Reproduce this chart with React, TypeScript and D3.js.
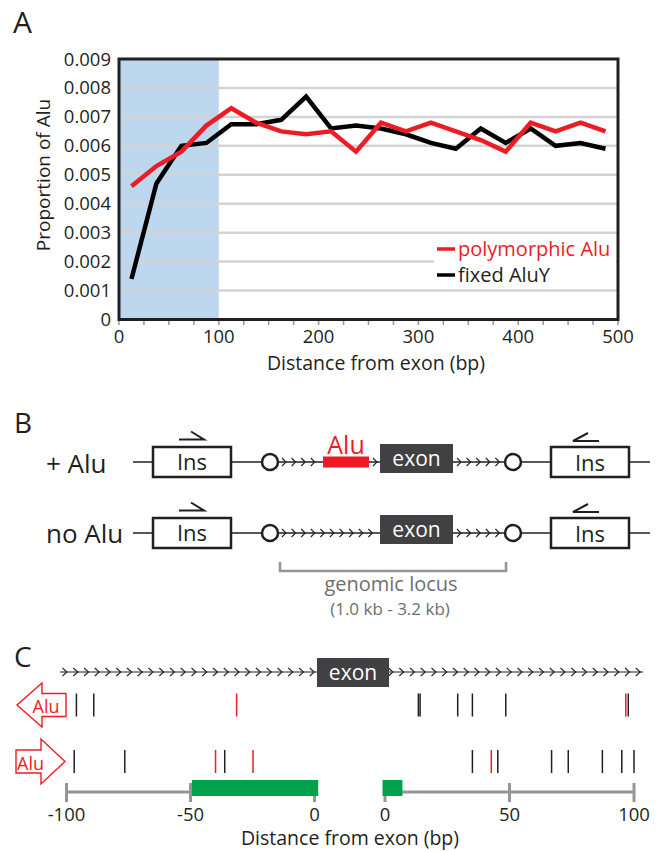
import React from "react";
import * as d3 from "d3";

const FONT = "'Open Sans', sans-serif";
const INK = "#231f20";
const RED = "#ed1c24";
const GRID = "#d1d3d4";
const GRAY = "#939598";
const EXON = "#414042";
const GREEN = "#00a14b";

// Panel A: proportion of Alu per 25 bp bin
const binMid = [12.5, 37.5, 62.5, 87.5, 112.5, 137.5, 162.5, 187.5, 212.5, 237.5, 262.5, 287.5, 312.5, 337.5, 362.5, 387.5, 412.5, 437.5, 462.5, 487.5];
const polymorphicAlu = [0.0046, 0.0053, 0.0058, 0.0067, 0.0073, 0.0068, 0.0065, 0.0064, 0.0065, 0.0058, 0.0068, 0.0065, 0.0068, 0.0065, 0.0062, 0.0058, 0.0068, 0.0065, 0.0068, 0.0065];
const fixedAluY = [0.0014, 0.0047, 0.006, 0.0061, 0.00675, 0.00675, 0.0069, 0.0077, 0.0066, 0.0067, 0.0066, 0.0064, 0.0061, 0.0059, 0.0066, 0.0061, 0.0066, 0.006, 0.0061, 0.0059];
const yTicksA = [0, 0.001, 0.002, 0.003, 0.004, 0.005, 0.006, 0.007, 0.008, 0.009];
const xTicksA = [0, 100, 200, 300, 400, 500];
const xMinorA = [0, 25, 50, 75, 100, 125, 150, 175, 200, 225, 250, 275, 300, 325, 350, 375, 400, 425, 450, 475, 500];
const shaded = [0, 100];

// Panel C: Alu insertion sites relative to exon (bp)
const revFixed = [-96, -89, 13.4, 14.1, 29.2, 35.1, 48.5, 97.7];
const revPoly = [-31.4, 96.7];
const fwdFixed = [-96.9, -76.5, -36.2, 35.1, 45.3, 66.9, 73.6, 87.3, 95.1, 100];
const fwdPoly = [-39.9, -24.8, 42.7];
const greenUp = [-49.4, 1.5];
const greenDown = [-1, 7];
const upTicks = [-100, -50, 0];
const downTicks = [0, 50, 100];

const chevron = (x: number, y: number, h: number, w: number, key: string) => (
  <path key={key} d={`M${x - w},${y - h} L${x},${y} L${x - w},${y + h}`} fill="none" stroke={INK} strokeWidth={1.1} />
);

function PanelA() {
  const x = d3.scaleLinear().domain([0, 500]).range([119, 618]);
  const y = d3.scaleLinear().domain([0, 0.009]).range([319.5, 59]);
  const line = d3.line<number>().x((_, i) => x(binMid[i])).y((d) => y(d));
  return (
    <g fontFamily={FONT} fill={INK}>
      <text x={13} y={33} fontSize={30}>A</text>
      <rect x={x(shaded[0])} y={y(0.009)} width={x(shaded[1]) - x(shaded[0])} height={y(0) - y(0.009)} fill="#bdd7ee" />
      {yTicksA.slice(1, -1).map((t) => (
        <line key={t} x1={x(0)} x2={x(500)} y1={y(t)} y2={y(t)} stroke={GRID} strokeWidth={2.5} />
      ))}
      {xMinorA.map((t) => (
        <line key={t} x1={x(t)} x2={x(t)} y1={321} y2={325} stroke={GRAY} strokeWidth={1.5} />
      ))}
      <path d={line(fixedAluY) || ""} fill="none" stroke="#000" strokeWidth={4.5} strokeLinejoin="miter" />
      <path d={line(polymorphicAlu) || ""} fill="none" stroke={RED} strokeWidth={4.5} strokeLinejoin="miter" />
      <rect x={x(0)} y={y(0.009)} width={x(500) - x(0)} height={y(0) - y(0.009)} fill="none" stroke={INK} strokeWidth={3} />
      {yTicksA.map((t) => (
        <text key={t} x={111} y={y(t) + 6.5} fontSize={18.5} textAnchor="end">{t === 0 ? "0" : t.toFixed(3)}</text>
      ))}
      {xTicksA.map((t) => (
        <text key={t} x={x(t)} y={343} fontSize={18.5} textAnchor="middle">{t}</text>
      ))}
      <text transform="translate(50,175) rotate(-90)" fontSize={19} textAnchor="middle">Proportion of Alu</text>
      <text x={376} y={370} fontSize={19.5} textAnchor="middle">Distance from exon (bp)</text>
      <rect x={434} y={237} width={182} height={48} fill="#fff" />
      <line x1={437} x2={455} y1={249} y2={249} stroke={RED} strokeWidth={3.5} />
      <text x={458} y={255.5} fontSize={20} fill={RED}>polymorphic Alu</text>
      <line x1={437} x2={455} y1={275} y2={275} stroke="#000" strokeWidth={3.5} />
      <text x={458} y={281.5} fontSize={20}>fixed AluY</text>
    </g>
  );
}

function Construct({ cy, withAlu }: { cy: number; withAlu: boolean }) {
  const leftChev = withAlu ? d3.range(4).map((i) => 286 + i * 9.6) : d3.range(10).map((i) => 286 + i * 9.6);
  const rightChev = d3.range(5).map((i) => 461 + i * 9.6);
  return (
    <g>
      <line x1={133} x2={650} y1={cy} y2={cy} stroke={INK} strokeWidth={1.4} />
      <rect x={153} y={cy - 15} width={78} height={30} fill="#fff" stroke={INK} strokeWidth={2.5} />
      <text x={192} y={cy + 8} fontSize={22} textAnchor="middle" fill={INK}>Ins</text>
      <rect x={551} y={cy - 15} width={78} height={30} fill="#fff" stroke={INK} strokeWidth={2.5} />
      <text x={590} y={cy + 9} fontSize={22} textAnchor="middle" fill={INK}>Ins</text>
      <path d={`M179,${cy - 22.5} H204 L191,${cy - 30.5}`} fill="none" stroke={INK} strokeWidth={2} />
      <path d={`M599,${cy - 21} H573 L588,${cy - 29}`} fill="none" stroke={INK} strokeWidth={2} />
      <circle cx={270} cy={cy} r={8} fill="#fff" stroke={INK} strokeWidth={2.5} />
      <circle cx={513} cy={cy} r={8} fill="#fff" stroke={INK} strokeWidth={2.5} />
      {leftChev.map((c, i) => chevron(c, cy, 4, 4, "l" + i))}
      {rightChev.map((c, i) => chevron(c, cy, 4, 4, "r" + i))}
      {withAlu && chevron(377, cy, 4, 4, "a")}
      {withAlu && <rect x={323} y={cy - 5.5} width={46} height={11} fill={RED} />}
      {withAlu && <text x={346} y={cy - 8} fontSize={25} textAnchor="middle" fill={RED}>Alu</text>}
      <rect x={380} y={cy - 18} width={73} height={29} fill={EXON} />
      <text x={416.5} y={cy + 4} fontSize={21} textAnchor="middle" fill="#fff">exon</text>
    </g>
  );
}

function PanelB() {
  return (
    <g fontFamily={FONT}>
      <text x={14} y={433} fontSize={28} fill={INK}>B</text>
      <text x={46} y={473} fontSize={26} fill={INK}>+ Alu</text>
      <text x={46} y={543} fontSize={26} fill={INK}>no Alu</text>
      <Construct cy={462} withAlu={true} />
      <Construct cy={533} withAlu={false} />
      <path d="M280,562 V571 H506 V562" fill="none" stroke={GRAY} strokeWidth={2.5} />
      <text x={391} y={591} fontSize={20} textAnchor="middle" fill="#6d6e71">genomic locus</text>
      <text x={390} y={615} fontSize={17} textAnchor="middle" fill="#6d6e71">(1.0 kb - 3.2 kb)</text>
    </g>
  );
}

function PanelC() {
  const up = d3.scaleLinear().domain([-100, 0]).range([66.5, 314.5]);
  const down = d3.scaleLinear().domain([0, 100]).range([385, 634]);
  const pos = (d: number) => (d < 0 ? up(d) : down(d));
  const topY = 672;
  const row1 = 705;
  const row2 = 761.5;
  const axisY = 792;
  const marks = (vals: number[], cy: number, color: string, k: string) =>
    vals.map((d, i) => (
      <line key={k + i} x1={pos(d)} x2={pos(d)} y1={cy - 11.5} y2={cy + 11.5} stroke={color} strokeWidth={1.5} />
    ));
  return (
    <g fontFamily={FONT}>
      <text x={14} y={667} fontSize={28} fill={INK}>C</text>
      <line x1={60} x2={643} y1={topY} y2={topY} stroke={INK} strokeWidth={1.2} />
      {d3.range(24).map((i) => chevron(67 + i * 10.75, topY, 4, 4.5, "cl" + i))}
      {d3.range(24).map((i) => chevron(393 + i * 10.75, topY, 4, 4.5, "cr" + i))}
      <rect x={317} y={658} width={72} height={29} fill={EXON} />
      <text x={353} y={680} fontSize={21} textAnchor="middle" fill="#fff">exon</text>

      <path d={`M17,${row1} L42,${row1 - 22} V${row1 - 11.5} H66 V${row1 + 11.5} H42 V${row1 + 22} Z`} fill="#fff" stroke={RED} strokeWidth={1.4} />
      <text x={46} y={row1 + 8} fontSize={18} textAnchor="middle" fill={RED}>Alu</text>
      <path d={`M16,${row2 - 11.5} H41 V${row2 - 22.5} L65,${row2} L41,${row2 + 22.5} V${row2 + 11.5} H16 Z`} fill="#fff" stroke={RED} strokeWidth={1.4} />
      <text x={17} y={row2 + 8} fontSize={18} fill={RED}>Alu</text>

      {marks(revFixed, row1, INK, "rf")}
      {marks(revPoly, row1, RED, "rp")}
      {marks(fwdFixed, row2, INK, "ff")}
      {marks(fwdPoly, row2, RED, "fp")}

      <line x1={up(-100)} x2={up(0)} y1={axisY} y2={axisY} stroke={GRAY} strokeWidth={3} />
      <line x1={down(0)} x2={down(100)} y1={axisY} y2={axisY} stroke={GRAY} strokeWidth={3} />
      {upTicks.map((t) => (
        <line key={"ut" + t} x1={up(t)} x2={up(t)} y1={783} y2={802} stroke={GRAY} strokeWidth={3} />
      ))}
      {downTicks.map((t) => (
        <line key={"dt" + t} x1={down(t)} x2={down(t)} y1={783} y2={802} stroke={GRAY} strokeWidth={3} />
      ))}
      <rect x={up(greenUp[0])} y={780} width={up(greenUp[1]) - up(greenUp[0])} height={16} fill={GREEN} />
      <rect x={down(greenDown[0])} y={780} width={down(greenDown[1]) - down(greenDown[0])} height={16} fill={GREEN} />
      {upTicks.map((t) => (
        <text key={"ul" + t} x={up(t)} y={821} fontSize={18.5} textAnchor="middle" fill={INK}>{t}</text>
      ))}
      {downTicks.map((t) => (
        <text key={"dl" + t} x={down(t)} y={821} fontSize={18.5} textAnchor="middle" fill={INK}>{t}</text>
      ))}
      <text x={350} y={845} fontSize={19.5} textAnchor="middle" fill={INK}>Distance from exon (bp)</text>
    </g>
  );
}

export default function App() {
  return (
    <svg width={661} height={851} style={{ position: "absolute", left: 0, top: 0, background: "#fff" }}>
      <rect width={661} height={851} fill="#fff" />
      <PanelA />
      <PanelB />
      <PanelC />
    </svg>
  );
}
